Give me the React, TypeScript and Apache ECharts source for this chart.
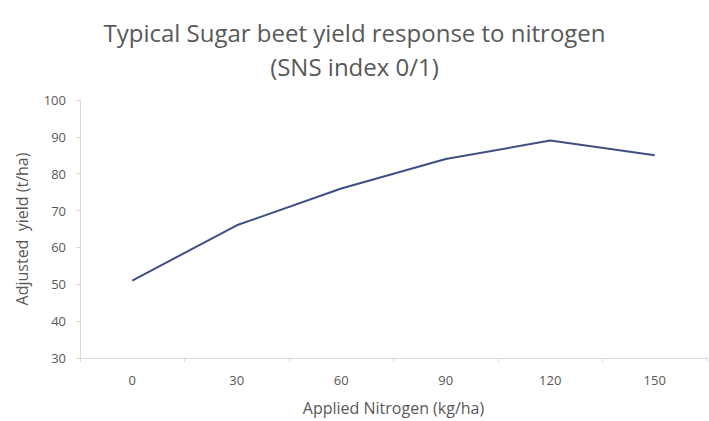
import React, { useEffect, useRef } from "react";
import * as echarts from "echarts";

const categories = ["0", "30", "60", "90", "120", "150"];
const yieldValues = [51, 66, 76, 84, 89, 85];
const titleText = "Typical Sugar beet yield response to nitrogen\n(SNS index 0/1)";
const xName = "Applied Nitrogen (kg/ha)";
const yName = "Adjusted  yield (t/ha)";

export default function App() {
  const ref = useRef<HTMLDivElement>(null);
  useEffect(() => {
    if (!ref.current) return;
    const chart = echarts.init(ref.current, null, { renderer: "svg" });
    const font = "'Open Sans', 'Liberation Sans', sans-serif";
    chart.setOption({
      animation: false,
      backgroundColor: "#ffffff",
      title: {
        text: titleText,
        left: "center",
        top: 10,
        textStyle: {
          fontFamily: font,
          fontSize: 24,
          fontWeight: "normal",
          color: "#595959",
          lineHeight: 34,
        },
      },
      grid: { left: 80, right: 2, top: 100, bottom: 62, containLabel: false },
      xAxis: {
        type: "category",
        data: categories,
        boundaryGap: true,
        name: xName,
        nameLocation: "middle",
        nameGap: 42,
        nameTextStyle: { fontFamily: font, fontSize: 16, color: "#595959" },
        axisLine: { lineStyle: { color: "#d9d9d9", width: 1 } },
        axisTick: { show: true, length: 4, lineStyle: { color: "#d9d9d9" } },
        axisLabel: { fontFamily: font, fontSize: 13, color: "#595959", margin: 15 },
        splitLine: { show: false },
      },
      yAxis: {
        type: "value",
        min: 30,
        max: 100,
        interval: 10,
        name: yName,
        nameLocation: "middle",
        nameGap: 50,
        nameRotate: 90,
        nameTextStyle: { fontFamily: font, fontSize: 16, color: "#595959" },
        axisLine: { show: true, lineStyle: { color: "#d9d9d9", width: 1 } },
        axisTick: { show: true, length: 4, lineStyle: { color: "#d9d9d9" } },
        axisLabel: { fontFamily: font, fontSize: 13, color: "#595959", margin: 14 },
        splitLine: { show: false },
      },
      series: [
        {
          type: "line",
          data: yieldValues,
          symbol: "none",
          lineStyle: { color: "#3f4f86", width: 2 },
        },
      ],
    });
    return () => chart.dispose();
  }, []);
  return <div ref={ref} style={{ width: 709, height: 421, position: "absolute", left: 0, top: 0 }} />;
}
